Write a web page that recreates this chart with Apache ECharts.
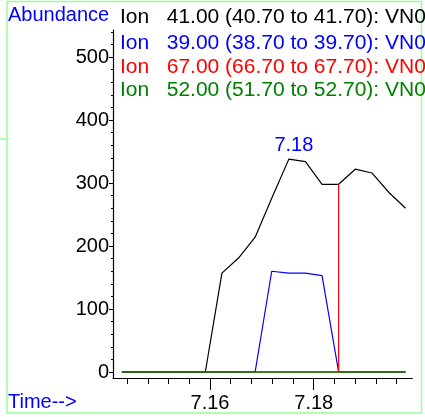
<!DOCTYPE html>
<html>
<head>
<meta charset="utf-8">
<script src="https://cdn.jsdelivr.net/npm/echarts@6/dist/echarts.min.js"></script>
<style>
html,body{margin:0;padding:0;background:#fff;}
#c{width:425px;height:417px;}
</style>
</head>
<body>
<div id="c"></div>
<script>
// ---- data ----
var times = [7.1430, 7.1462, 7.1494, 7.1526, 7.1559, 7.1591, 7.1623, 7.1655, 7.1687,
             7.1719, 7.1752, 7.1784, 7.1816, 7.1848, 7.1880, 7.1912, 7.1945, 7.1977];
var ion41 = [0, 0, 0, 0, 0, 0, 157, 181, 214, 276, 338, 334, 298, 298, 322, 316, 285, 260];
var ion39 = [0, 0, 0, 0, 0, 0, 0, 0, 0, 160, 157, 157, 153, 0, 0, 0, 0, 0];
var ion67 = [0, 0, 0, 0, 0, 0, 0, 0, 0, 0, 0, 0, 0, 0, 0, 0, 0, 0];
var ion52 = [0, 0, 0, 0, 0, 0, 0, 0, 0, 0, 0, 0, 0, 0, 0, 0, 0, 0];
var markerTime = 7.1848;
var markerHeight = 298;
var yTickValues = [0, 100, 200, 300, 400, 500];
var yMinorTickValues = [20, 40, 60, 80, 120, 140, 160, 180, 220, 240, 260, 280, 320, 340, 360, 380, 420, 440, 460, 480, 520, 540];
var xLabelValues = [7.16, 7.18];
var xMinorTickValues = [7.144, 7.148, 7.152, 7.156, 7.160, 7.164, 7.168, 7.172, 7.176, 7.180, 7.184, 7.188, 7.192, 7.196];
var legendLines = [
  'Ion   41.00 (40.70 to 41.70): VN0',
  'Ion   39.00 (38.70 to 39.70): VN0',
  'Ion   67.00 (66.70 to 67.70): VN0',
  'Ion   52.00 (51.70 to 52.70): VN0'
];
var colors = ['#000000', '#0000ff', '#ff0000', '#008000'];

// ---- build ----
function pairs(vals) { return times.map(function (t, i) { return [t, vals[i]]; }); }
var redData = [];
times.forEach(function (t, i) {
  redData.push([t, ion67[i]]);
  if (t === markerTime) { redData.push([t, markerHeight]); redData.push([t, 0]); }
});
var pk = 0;
ion41.forEach(function (v, i) { if (v > ion41[pk]) pk = i; });

var FONT = 'Liberation Sans, Arial, sans-serif';
var chart = echarts.init(document.getElementById('c'), null, {renderer: 'canvas'});

var legendY = [17, 43, 67, 90];
var graphics = [
  {type: 'rect', shape: {x: 7, y: 1.5, width: 414.5, height: 411.5}, style: {fill: 'none', stroke: '#99ff99', lineWidth: 1.5}, silent: true},
  {type: 'line', shape: {x1: 0, y1: 139, x2: 7, y2: 139}, style: {stroke: '#99ff99', lineWidth: 1.5}, silent: true},
  {type: 'text', left: 8, top: 5, style: {text: 'Abundance', fill: '#0000ff', font: '20px ' + FONT}},
  {type: 'text', left: 8, top: 392, style: {text: 'Time-->', fill: '#0000ff', font: '20px ' + FONT}}
];
legendLines.forEach(function (s, i) {
  graphics.push({type: 'text', x: 120, y: legendY[i], scaleX: 1.05,
    style: {text: s, fill: colors[i], font: '20px ' + FONT, textVerticalAlign: 'middle'}});
});

var yMin = -9.5, yMax = 543, xMin = 7.1413, xMax = 7.1990;

chart.setOption({
  animation: false,
  backgroundColor: '#ffffff',
  grid: {left: 113, right: 12.7, top: 30, bottom: 39},
  xAxis: [
    {type: 'value', min: xMin, max: xMax, position: 'bottom',
     axisLine: {show: true, onZero: false, lineStyle: {color: '#000', width: 1.2}},
     axisTick: {show: true, length: 6, customValues: xMinorTickValues, lineStyle: {color: '#000', width: 1}},
     axisLabel: {show: false}, splitLine: {show: false}},
    {type: 'value', min: xMin, max: xMax, position: 'bottom',
     axisLine: {show: false, onZero: false},
     axisTick: {show: true, length: 12, customValues: xLabelValues, lineStyle: {color: '#000', width: 1}},
     axisLabel: {show: true, customValues: xLabelValues, margin: 15, color: '#000', fontSize: 20, fontFamily: FONT,
       formatter: function (v) { return v.toFixed(2); }},
     splitLine: {show: false}}
  ],
  yAxis: [
    {type: 'value', min: yMin, max: yMax, position: 'left',
     axisLine: {show: true, onZero: false, lineStyle: {color: '#000', width: 1.2}},
     axisTick: {show: true, length: 4, customValues: yTickValues, lineStyle: {color: '#000', width: 1}},
     axisLabel: {show: true, customValues: yTickValues, margin: 4, color: '#000', fontSize: 20, fontFamily: FONT},
     splitLine: {show: false}},
    {type: 'value', min: yMin, max: yMax, position: 'left',
     axisLine: {show: false, onZero: false},
     axisTick: {show: true, length: 2, customValues: yMinorTickValues, lineStyle: {color: '#000', width: 1}},
     axisLabel: {show: false}, splitLine: {show: false}}
  ],
  graphic: graphics,
  series: [
    {type: 'line', name: 'Ion 41', data: pairs(ion41), symbol: 'none', lineStyle: {color: colors[0], width: 1.2},
     markPoint: {symbol: 'circle', symbolSize: 0,
       label: {show: true, position: 'top', distance: 4, offset: [5, 0], color: '#0000ff', fontSize: 20, fontFamily: FONT,
         formatter: function (p) { return p.value; }},
       data: [{coord: [times[pk], ion41[pk]], value: times[pk].toFixed(2)}]}},
    {type: 'line', name: 'Ion 39', data: pairs(ion39), symbol: 'none', lineStyle: {color: colors[1], width: 1.2}},
    {type: 'line', name: 'Ion 67', data: redData, symbol: 'none', lineStyle: {color: colors[2], width: 1.2}},
    {type: 'line', name: 'Ion 52', data: pairs(ion52), symbol: 'none', lineStyle: {color: colors[3], width: 1.6}}
  ]
});
</script>
</body>
</html>
